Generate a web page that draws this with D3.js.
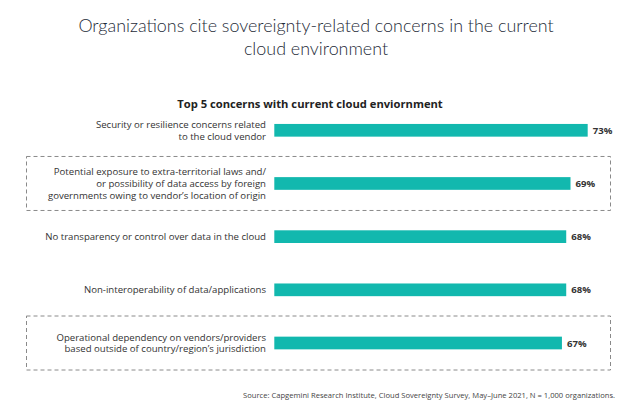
<!DOCTYPE html>
<html>
<head>
<meta charset="utf-8">
<script src="https://cdn.jsdelivr.net/npm/d3@7"></script>
<style>
  body { margin: 0; background: #fff; }
  svg { display: block; }
</style>
</head>
<body>
<div id="chart"></div>
<script>

const titleLines = ["Organizations cite sovereignty-related concerns in the current", "cloud environment"];
const subtitle = "Top 5 concerns with current cloud enviornment";
const source = "Source: Capgemini Research Institute, Cloud Sovereignty Survey, May–June 2021, N = 1,000 organizations.";

const concerns = [
    ["Security or resilience concerns related", "to the cloud vendor"],
    ["Potential exposure to extra-territorial laws and/", "or possibility of data access by foreign", "governments owing to vendor’s location of origin"],
    ["No transparency or control over data in the cloud"],
    ["Non-interoperability of data/applications"],
    ["Operational dependency on vendors/providers", "based outside of country/region’s jurisdiction"]
];
const shares = [73, 69, 68, 68, 67];
const highlighted = [false, true, false, false, true];

const width = 629, height = 403;
const barColor = "#12b8ae";
const textColor = "#333333";

const svg = d3.select("#chart").append("svg")
    .attr("width", width)
    .attr("height", height);

// titre
svg.append("g").selectAll("text")
    .data(titleLines)
    .join("text")
    .attr("x", 316)
    .attr("y", (d, i) => 32 + i * 23)
    .attr("text-anchor", "middle")
    .attr("font-family", "Lato, sans-serif")
    .attr("font-weight", 300)
    .attr("font-size", "17.9px")
    .attr("fill", "#1e2b38")
    .text(d => d);

svg.append("text")
    .attr("x", 310)
    .attr("y", 108)
    .attr("text-anchor", "middle")
    .attr("font-family", "Open Sans, sans-serif")
    .attr("font-weight", "bold")
    .attr("font-size", "11.2px")
    .attr("fill", "#222")
    .text(subtitle);

const x = d3.scaleLinear()
    .domain([0, 100])
    .range([274.3, 274.3 + 429.3]);

const y = d3.scalePoint()
    .domain(d3.range(concerns.length))
    .range([130.3, 343]);

const barH = 12.7;

// cadres pointillés
svg.append("g").selectAll("rect")
    .data(d3.range(concerns.length).filter(i => highlighted[i]))
    .join("rect")
    .attr("x", 26.5)
    .attr("y", i => y(i) - 27)
    .attr("width", 584)
    .attr("height", 54)
    .attr("fill", "none")
    .attr("stroke", "#8a8a8a")
    .attr("stroke-width", 1)
    .attr("stroke-dasharray", "4,3");

svg.append("g").selectAll("rect")
    .data(shares)
    .join("rect")
    .attr("x", x(0))
    .attr("y", (d, i) => y(i) - barH / 2)
    .attr("width", d => x(d) - x(0))
    .attr("height", barH)
    .attr("fill", barColor);

svg.append("g").selectAll("text")
    .data(shares)
    .join("text")
    .attr("x", d => x(d) + 5)
    .attr("y", (d, i) => y(i) + 3.6)
    .attr("font-family", "Open Sans, sans-serif")
    .attr("font-weight", "bold")
    .attr("font-size", "9.6px")
    .attr("fill", textColor)
    .text(d => d + "%");

// libellés
const labels = svg.append("g").selectAll("text")
    .data(concerns)
    .join("text")
    .attr("text-anchor", "end")
    .attr("font-family", "Open Sans, sans-serif")
    .attr("font-size", "9.6px")
    .attr("fill", textColor);

labels.each(function(lines, i) {
    const lh = 11.7;
    const top = y(i) + 3.5 - (lines.length - 1) * lh / 2;
    d3.select(this).selectAll("tspan")
        .data(lines)
        .join("tspan")
        .attr("x", 266)
        .attr("y", (d, j) => top + j * lh)
        .text(d => d);
});

svg.append("text")
    .attr("x", 615)
    .attr("y", 398)
    .attr("text-anchor", "end")
    .attr("font-family", "Open Sans, sans-serif")
    .attr("font-size", "7.6px")
    .attr("fill", "#444")
    .text(source);

</script>
</body>
</html>
